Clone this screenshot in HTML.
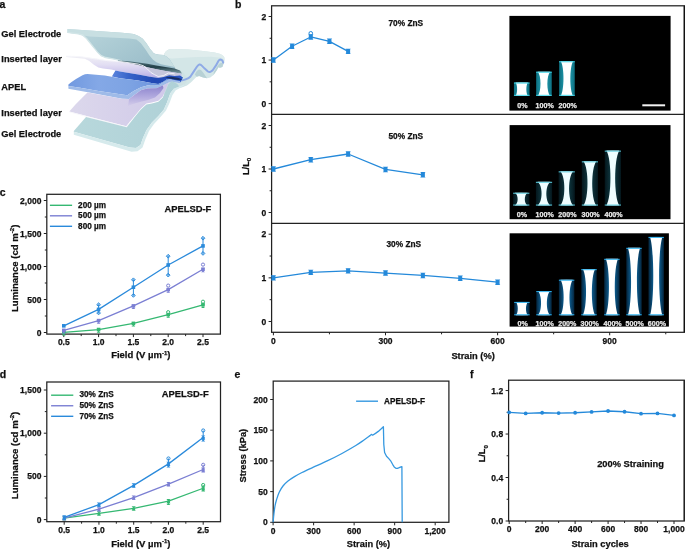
<!DOCTYPE html>
<html><head><meta charset="utf-8"><style>
html,body{margin:0;padding:0;background:#fff;width:685px;height:549px;overflow:hidden}
svg{display:block;filter:blur(0.35px)}
text{font-family:"Liberation Sans", sans-serif}
</style></head><body>
<svg width="685" height="549" viewBox="0 0 685 549" font-family='"Liberation Sans", sans-serif'>
<rect width="685" height="549" fill="#fff"/>
<text x="-0.60" y="8.00" font-size="10.5" text-anchor="start" fill="#111" font-weight="bold" stroke="#111" stroke-width="0.25" >a</text>
<text x="234.90" y="7.60" font-size="10.5" text-anchor="start" fill="#111" font-weight="bold" stroke="#111" stroke-width="0.25" >b</text>
<text x="-0.20" y="196.30" font-size="10.5" text-anchor="start" fill="#111" font-weight="bold" stroke="#111" stroke-width="0.25" >c</text>
<text x="-0.30" y="378.20" font-size="10.5" text-anchor="start" fill="#111" font-weight="bold" stroke="#111" stroke-width="0.25" >d</text>
<text x="234.60" y="378.20" font-size="10.5" text-anchor="start" fill="#111" font-weight="bold" stroke="#111" stroke-width="0.25" >e</text>
<text x="470.00" y="378.20" font-size="10.5" text-anchor="start" fill="#111" font-weight="bold" stroke="#111" stroke-width="0.25" >f</text>
<text x="1.30" y="36.80" font-size="9.3" text-anchor="start" fill="#111" font-weight="bold" stroke="#111" stroke-width="0.25" >Gel Electrode</text>
<text x="1.30" y="62.30" font-size="9.3" text-anchor="start" fill="#111" font-weight="bold" stroke="#111" stroke-width="0.25" >Inserted layer</text>
<text x="1.30" y="90.20" font-size="9.3" text-anchor="start" fill="#111" font-weight="bold" stroke="#111" stroke-width="0.25" >APEL</text>
<text x="1.30" y="116.40" font-size="9.3" text-anchor="start" fill="#111" font-weight="bold" stroke="#111" stroke-width="0.25" >Inserted layer</text>
<text x="1.30" y="137.20" font-size="9.3" text-anchor="start" fill="#111" font-weight="bold" stroke="#111" stroke-width="0.25" >Gel Electrode</text>
<defs>
<linearGradient id="gTop" x1="0" y1="0" x2="1" y2="0.6">
<stop offset="0" stop-color="#bcd7dd"/><stop offset="0.55" stop-color="#a9c9d2"/><stop offset="1" stop-color="#9abcc9"/>
</linearGradient>
<linearGradient id="gIns1" x1="0" y1="0" x2="0" y2="1">
<stop offset="0" stop-color="#f0f0f5"/><stop offset="0.4" stop-color="#e2def3"/><stop offset="0.75" stop-color="#cbc4ec"/><stop offset="1" stop-color="#b4abe4"/>
</linearGradient>
<linearGradient id="gDark" x1="0" y1="0" x2="1" y2="0">
<stop offset="0" stop-color="#5a84dc"/><stop offset="0.25" stop-color="#3562c8"/><stop offset="0.6" stop-color="#2249b4"/><stop offset="1" stop-color="#2a55c4"/>
</linearGradient>
<linearGradient id="gApelTop" x1="0" y1="0" x2="1" y2="0">
<stop offset="0" stop-color="#7199e0"/><stop offset="0.3" stop-color="#84a8e6"/><stop offset="0.6" stop-color="#7da3e3"/><stop offset="1" stop-color="#6990dc"/>
</linearGradient>
<linearGradient id="gIns2" x1="0" y1="0" x2="1" y2="0">
<stop offset="0" stop-color="#dcd8ec"/><stop offset="0.6" stop-color="#d5cfea"/><stop offset="1" stop-color="#cfc8ea"/>
</linearGradient>
<linearGradient id="gPurp" x1="0" y1="0" x2="0" y2="1">
<stop offset="0" stop-color="#857cc9"/><stop offset="0.5" stop-color="#aaa2dc"/><stop offset="1" stop-color="#d3ccea"/>
</linearGradient>
<linearGradient id="gBot" x1="0" y1="0" x2="1" y2="0">
<stop offset="0" stop-color="#b8d8dc"/><stop offset="1" stop-color="#afd1d7"/>
</linearGradient>
<linearGradient id="gShadow" x1="0" y1="0" x2="0" y2="1">
<stop offset="0" stop-color="#5d7f88"/><stop offset="0.5" stop-color="#213f48"/><stop offset="1" stop-color="#7fa0a8"/>
</linearGradient>
</defs>
<!-- wave back body -->
<path d="M156.4,54.6 L163.7,55 Q165,51 169.2,49.2 L173.8,49 L188.4,49.5 L203,51 L214.7,52.4 L220.5,53.9 Q223.8,55.5 224.4,57.5 L224.5,61 L224,63 L222.4,67 L220,67.8 L218.4,67.2 L216.8,70.3 L213.5,75.1 L210.3,77.5 L207.1,78.3 L203.1,77.5 L199.1,75.9 L196.7,76.7 L194.3,79.1 L191.1,82.3 L187,85.5 L183,87.1 L179,87.9 L175,88.7 L172,91 L165,80 L158,66 Z" fill="#d3e6e7"/>
<path d="M150,60 L182,71 L188,79 L183,87.1 L177.4,88 L173.7,88.7 L170.4,93.1 L160,95 L150,90 Z" fill="#cfe2e4"/>
<!-- lighter top surface of wave -->
<path d="M163.7,55 Q165,51 169.2,49.2 L173.8,49 L188.4,49.5 L203,51 L214.7,52.4 L220.5,53.9 Q223.8,55.5 224.4,57.5 L224.5,60 L221.5,57.8 L211,56.8 L197.3,57 L183.7,57.8 L172,58.5 L166,57.5 Z" fill="#e0eded"/>
<!-- shaded troughs below blue line -->
<path d="M194.8,74.5 L196.8,71 L199,69.5 L201,70 L203.5,73 L205.5,76 L207.1,78.3 L203.1,77.5 L199.1,75.9 L196.7,76.7 Z" fill="#b7d1d5"/>
<path d="M213.8,72 L216.5,67.5 L219,64 L221,62.8 L223.4,63.5 L222.4,67 L220,67.8 L218.4,67.2 L216.8,70.3 L213.5,75.1 Z" fill="#bad3d6"/>
<!-- blue APEL line in wave cross-section -->
<path d="M176,81 L179.8,80.7 Q183.5,80.3 186.2,79.1 Q188.8,78.2 190.3,76.7 L193.5,71.9 L196.7,67 Q198,65 199.1,64.6 Q200.5,64.4 201.5,65.4 L204.7,68.6 L207.9,71.5 Q209.2,72.3 210.3,71.9 Q211.6,71.4 212.7,70.3 L216,65.4 L218.4,61 Q219.4,59.5 220.4,59.4 Q221.7,59.4 222.4,60.6 L223.2,62.6" fill="none" stroke="#8eaae6" stroke-width="2" stroke-linecap="round" stroke-linejoin="round"/>
<!-- top gel electrode -->
<path d="M67.5,29.1 L89.3,30.5 L122,32.7 L127.3,33.2 L133.7,34.1 Q139.1,35.9 142.8,38.7 L146.4,43.2 L150,48.7 L153.7,53.2 Q156.4,54.6 159,54.8 L163.7,55 L167.3,57 L170,60 L174.6,66.9 L176,70.5 L165.5,68.6 L156.4,67.3 L147.3,65.5 L138.2,63.2 L129.1,62.3 L122,61.2 L113,59.1 L105.7,57.8 L101.2,56 L97.5,52.3 L93.9,47.8 L90.2,43.2 L86.6,38.7 L82.9,35.5 L78.4,34.1 L67.5,32.7 Z" fill="url(#gTop)"/>
<path d="M67.5,29.1 L89.3,30.5 L122,32.7 L127.3,33.2 L133.7,34.1 Q139.1,35.9 142.8,38.7 L146.4,43.2 L150,48.7 L153.7,53.2 Q156.4,54.6 159,54.8 L163.7,55 L167.3,57 L170,60 L174.6,66.9 L167.3,65.5 L161,64.2 L156.4,62.3 L152.8,59.6 L149.1,55 L145.5,49.6 L140.9,43.2 L136.4,39.6 L129.1,38.5 L120,38 L105,37.2 L89.3,36.6 L82.9,35.5 L78.4,34.1 L67.5,32.7 Z" fill="#c8dfe2"/>
<path d="M67.5,32.4 L78.4,33.8 L82.9,35.2 L86.6,38.5 L90.2,43 L93.9,47.6 L97.5,52.1 L101.2,55.7 L105.7,57.5 L113,58.8 L122,60.8" fill="none" stroke="#d2e5e7" stroke-width="1.3"/>
<!-- dark shadow under top electrode -->
<path d="M118,60.6 L129.1,61.3 L138.2,62.4 L147.3,63.8 L156.4,65.4 L165.5,66.9 L174.6,68.4 L180,70.5 L182,73.5 L174.6,73.3 L165.5,71.6 L156.4,69.8 L147.3,68 L138.2,65.6 L129.1,63.8 L118,62.4 Z" fill="url(#gShadow)"/>
<!-- top inserted layer -->
<path d="M66.1,56 L80.2,56.4 L89.3,57.8 L98.4,59.1 L107.5,60.5 L118,61.3 L129.1,63.1 L138.2,64.9 L147.3,67.3 L156.4,69.2 L165.5,71 L174.6,72.6 L181,73.8 L182,75.5 L180,75.5 L174.6,75.9 L169.2,75.2 L163.7,77 L158.2,78 L150,76.8 L138.2,74.5 L120,71.5 L111.2,69.5 L103,68.5 L98.4,67.5 L93.9,64.7 L89.3,61 L84.8,58.7 L66.1,56.9 Z" fill="url(#gIns1)"/>
<path d="M143.7,65.7 L147.3,67.3 L156.4,69.2 L165.5,71 L174.6,72.6 L181,73.8 L180,75.5 L174.6,75.9 L169.2,75.2 L163.7,77 L158.2,76.6 L154.6,74.6 L151,72.5 L147.3,68.7 Z" fill="#c6c6dc"/>
<path d="M66.1,56.2 L80.2,56.6 L89.3,58 L98.4,59.3 L107.5,60.7 L122,61.8 L129.1,62.8 L138.2,64.1 L143.7,65.9 L147.3,68.9 L151,72.6 L154.6,74.7 L158.2,76.5 L163.7,75.6 L168.3,73 L174.6,73.8" fill="none" stroke="#f6f6fa" stroke-width="0.9"/>
<!-- APEL dark back band -->
<path d="M112,76.2 L115.5,70.6 L120,71.5 L138.2,74.5 L150,76.8 L158.2,78 L163.7,77 L169.2,75.2 L174.6,75.9 L180,75.5 L183,77.5 L180,82.8 L176.5,81.4 L171,79.6 L167.3,79.1 L162.8,81.9 L158.2,84.1 L150,82.8 L138.2,80.5 L120,78.2 L112,76.6 Z" fill="url(#gDark)"/>
<path d="M165,77.5 L171,76.8 L178,77.8 L182.5,79.5 L178,80 L171,78.8 Z" fill="#14254a" opacity="0.8"/>
<!-- APEL top face -->
<path d="M68.4,84.6 Q72,81.5 76,79 L82.5,75.2 Q85,74.1 87.5,74 L104.8,75.6 L120,78.2 L138.2,80.5 L150,82.8 L158.2,84.1 L162.8,81.9 L167.3,79.1 L170,79.3 L163.7,81.9 L159.2,85 L154.6,85.5 L147.3,85.5 L141,87.3 L133.7,91 L127.3,95.2 L122,94.6 L98.4,91 L80.2,87.8 L68.4,86 Z" fill="url(#gApelTop)"/>
<!-- APEL front face -->
<path d="M68.4,86 L80.2,87.8 L98.4,91 L122,94.6 L127.3,95.2 L133.7,91 L141,87.3 L147.3,85.5 L154.6,85.5 L159.2,85 L163.7,81.9 L169.2,79.1 L174.6,80 L180,81 L180,83 L174.6,82.2 L169.2,82.2 L162.8,85.6 L156.4,88.3 L147.3,88.4 L141,90.2 L133.7,95.6 L129.1,99 L122,98.7 L89.3,92.4 L68.4,88.8 Z" fill="#9fbbe8"/>
<!-- bottom inserted layer -->
<path d="M69.3,111.4 L75.7,104.2 L82.9,96.9 L87.5,92.6 L122,98.7 L129.1,99 L133.7,95.6 L141,90.2 L147.3,88.4 L156.4,88.3 L162.8,85.6 L169.2,82.2 L172,80.5 L168.3,83.3 L166.1,88.7 L162.8,96.4 L158.4,100.8 L151.9,102.4 L146.4,103.5 L140.9,108.4 L135.5,115 L130,121.5 L126.3,126.2 L100,119.5 Z" fill="url(#gIns2)"/>
<path d="M129.1,99 L133.7,95.6 L141,90.2 L147.3,88.4 L156.4,88.3 L162.8,85.6 L163.5,88 L160,93 L155,97.5 L148,100 L140,102 L133,104 L128,106 Z" fill="url(#gPurp)" opacity="0.9"/>
<path d="M69.3,111.4 L100,119.5 L126.3,126.2 L130,121.5 L130.6,122.3 L126.8,127.3 L100,120.5 L69.3,112.2 Z" fill="#f6f5fa"/>
<!-- bottom gel electrode top face -->
<path d="M73.8,130.9 L86,116.9 L100,120.5 L126.8,127.3 L130.6,122.3 L135.5,116 L140.9,109.4 L146.4,104.5 L151.9,103.4 L158.4,101.8 L162.8,97.4 L166.1,89.7 L168.3,84.3 L172,81 L177.4,84 L179.2,86.6 L173.7,88.7 L170.4,93.1 L167.2,101.9 L163.9,109.5 L158.4,116.1 L151.9,122.6 L146.4,130.3 L143,138 L140.5,145 L136,148 L129.8,147.6 L73.8,131.8 Z" fill="url(#gBot)"/>
<!-- bottom gel electrode front face -->
<path d="M73.8,131.8 L129.8,147.6 L136,148 L140.5,145 L143,138 L146.4,130.3 L151.9,122.6 L158.4,116.1 L163.9,109.5 L167.2,101.9 L170.4,93.1 L173.7,88.7 L179.2,86.6 L184,84.5 L184,85.8 L180,88 L175.5,90.5 L172.5,95 L169.5,103 L166,110.5 L160,117.5 L154,124 L149,131 L145.5,139 L142.5,147.5 L137.5,151.2 L131.6,151.8 L73.8,134.8 Z" fill="#d6eaec"/>

<defs>
<linearGradient id="e1" x1="0" y1="0" x2="1" y2="0"><stop offset="0" stop-color="#0e6f80"/><stop offset="0.3" stop-color="#1b93a6"/><stop offset="0.5" stop-color="#2ab0c2"/><stop offset="0.7" stop-color="#1b93a6"/><stop offset="1" stop-color="#0e6f80"/></linearGradient>
<linearGradient id="e2" x1="0" y1="0" x2="1" y2="0"><stop offset="0" stop-color="#04161c"/><stop offset="0.3" stop-color="#0c3038"/><stop offset="0.5" stop-color="#2a6a78"/><stop offset="0.7" stop-color="#0c3038"/><stop offset="1" stop-color="#04161c"/></linearGradient>
<linearGradient id="e3" x1="0" y1="0" x2="1" y2="0"><stop offset="0" stop-color="#04243c"/><stop offset="0.3" stop-color="#0c5a8c"/><stop offset="0.5" stop-color="#2a9ee0"/><stop offset="0.7" stop-color="#0c5a8c"/><stop offset="1" stop-color="#04243c"/></linearGradient>
</defs>
<rect x="509.4" y="15.9" width="161.20" height="94.70" fill="#000"/>
<rect x="509.6" y="125.1" width="160.90" height="94.10" fill="#000"/>
<rect x="509.6" y="233.3" width="159.30" height="93.30" fill="#000"/>
<rect x="513.95" y="82.50" width="15.60" height="13.40" fill="url(#e1)"/>
<path d="M515.51,82.50 L527.99,82.50 C525.81,84.64 525.81,93.76 527.99,95.90 L515.51,95.90 C517.69,93.76 517.69,84.64 515.51,82.50 Z" fill="#ffffff"/>
<rect x="513.95" y="82.50" width="15.60" height="1.1" fill="#3fd6ea" opacity="0.9"/>
<rect x="513.95" y="94.80" width="15.60" height="1.1" fill="#3fd6ea" opacity="0.9"/>
<text x="522.45" y="108.20" font-size="7.1" text-anchor="middle" fill="#e8e8e8" font-weight="bold" stroke="#e8e8e8" stroke-width="0.25" >0%</text>
<rect x="536.15" y="71.70" width="15.60" height="24.20" fill="url(#e1)"/>
<path d="M537.71,71.70 L550.19,71.70 C546.45,75.57 546.45,92.03 550.19,95.90 L537.71,95.90 C541.45,92.03 541.45,75.57 537.71,71.70 Z" fill="#ffffff"/>
<rect x="536.15" y="71.70" width="15.60" height="1.1" fill="#3fd6ea" opacity="0.9"/>
<rect x="536.15" y="94.80" width="15.60" height="1.1" fill="#3fd6ea" opacity="0.9"/>
<text x="544.65" y="108.20" font-size="7.1" text-anchor="middle" fill="#e8e8e8" font-weight="bold" stroke="#e8e8e8" stroke-width="0.25" >100%</text>
<rect x="559.15" y="61.20" width="15.60" height="34.70" fill="url(#e1)"/>
<path d="M560.71,61.20 L573.19,61.20 C569.45,66.75 569.45,90.35 573.19,95.90 L560.71,95.90 C564.45,90.35 564.45,66.75 560.71,61.20 Z" fill="#ffffff"/>
<rect x="559.15" y="61.20" width="15.60" height="1.1" fill="#3fd6ea" opacity="0.9"/>
<rect x="559.15" y="94.80" width="15.60" height="1.1" fill="#3fd6ea" opacity="0.9"/>
<text x="567.65" y="108.20" font-size="7.1" text-anchor="middle" fill="#e8e8e8" font-weight="bold" stroke="#e8e8e8" stroke-width="0.25" >200%</text>
<rect x="642.3" y="104.3" width="22.8" height="2" fill="#f2f2f2"/>
<rect x="513.15" y="192.70" width="16.20" height="12.90" fill="url(#e2)"/>
<path d="M514.77,192.70 L527.73,192.70 C523.84,194.76 523.84,203.54 527.73,205.60 L514.77,205.60 C518.66,203.54 518.66,194.76 514.77,192.70 Z" fill="#effdff"/>
<rect x="513.15" y="192.70" width="16.20" height="1.1" fill="#5fd0e2" opacity="0.9"/>
<rect x="513.15" y="204.50" width="16.20" height="1.1" fill="#5fd0e2" opacity="0.9"/>
<text x="521.95" y="216.60" font-size="7.1" text-anchor="middle" fill="#e8e8e8" font-weight="bold" stroke="#e8e8e8" stroke-width="0.25" >0%</text>
<rect x="535.90" y="181.80" width="16.20" height="23.80" fill="url(#e2)"/>
<path d="M537.52,181.80 L550.48,181.80 C544.97,185.61 544.97,201.79 550.48,205.60 L537.52,205.60 C543.03,201.79 543.03,185.61 537.52,181.80 Z" fill="#effdff"/>
<rect x="535.90" y="181.80" width="16.20" height="1.1" fill="#5fd0e2" opacity="0.9"/>
<rect x="535.90" y="204.50" width="16.20" height="1.1" fill="#5fd0e2" opacity="0.9"/>
<text x="544.70" y="216.60" font-size="7.1" text-anchor="middle" fill="#e8e8e8" font-weight="bold" stroke="#e8e8e8" stroke-width="0.25" >100%</text>
<rect x="558.65" y="171.30" width="16.20" height="34.30" fill="url(#e2)"/>
<path d="M560.27,171.30 L573.23,171.30 C567.72,176.79 567.72,200.11 573.23,205.60 L560.27,205.60 C565.78,200.11 565.78,176.79 560.27,171.30 Z" fill="#effdff"/>
<rect x="558.65" y="171.30" width="16.20" height="1.1" fill="#5fd0e2" opacity="0.9"/>
<rect x="558.65" y="204.50" width="16.20" height="1.1" fill="#5fd0e2" opacity="0.9"/>
<text x="567.45" y="216.60" font-size="7.1" text-anchor="middle" fill="#e8e8e8" font-weight="bold" stroke="#e8e8e8" stroke-width="0.25" >200%</text>
<rect x="581.80" y="161.30" width="16.20" height="44.30" fill="url(#e2)"/>
<path d="M583.42,161.30 L596.38,161.30 C590.87,168.39 590.87,198.51 596.38,205.60 L583.42,205.60 C588.93,198.51 588.93,168.39 583.42,161.30 Z" fill="#effdff"/>
<rect x="581.80" y="161.30" width="16.20" height="1.1" fill="#5fd0e2" opacity="0.9"/>
<rect x="581.80" y="204.50" width="16.20" height="1.1" fill="#5fd0e2" opacity="0.9"/>
<text x="590.60" y="216.60" font-size="7.1" text-anchor="middle" fill="#e8e8e8" font-weight="bold" stroke="#e8e8e8" stroke-width="0.25" >300%</text>
<rect x="604.75" y="150.60" width="16.20" height="55.00" fill="url(#e2)"/>
<path d="M606.37,150.60 L619.33,150.60 C613.82,159.40 613.82,196.80 619.33,205.60 L606.37,205.60 C611.88,196.80 611.88,159.40 606.37,150.60 Z" fill="#effdff"/>
<rect x="604.75" y="150.60" width="16.20" height="1.1" fill="#5fd0e2" opacity="0.9"/>
<rect x="604.75" y="204.50" width="16.20" height="1.1" fill="#5fd0e2" opacity="0.9"/>
<text x="613.55" y="216.60" font-size="7.1" text-anchor="middle" fill="#e8e8e8" font-weight="bold" stroke="#e8e8e8" stroke-width="0.25" >400%</text>
<rect x="514.20" y="301.90" width="15.40" height="13.40" fill="url(#e3)"/>
<path d="M515.74,301.90 L528.06,301.90 C525.29,304.04 525.29,313.16 528.06,315.30 L515.74,315.30 C518.51,313.16 518.51,304.04 515.74,301.90 Z" fill="#ffffff"/>
<rect x="514.20" y="301.90" width="15.40" height="1.1" fill="#2fb2f0" opacity="0.9"/>
<rect x="514.20" y="314.20" width="15.40" height="1.1" fill="#2fb2f0" opacity="0.9"/>
<text x="522.60" y="325.50" font-size="7.1" text-anchor="middle" fill="#e8e8e8" font-weight="bold" stroke="#e8e8e8" stroke-width="0.25" >0%</text>
<rect x="536.30" y="291.00" width="15.40" height="24.30" fill="url(#e3)"/>
<path d="M537.84,291.00 L550.16,291.00 C545.85,294.89 545.85,311.41 550.16,315.30 L537.84,315.30 C542.15,311.41 542.15,294.89 537.84,291.00 Z" fill="#ffffff"/>
<rect x="536.30" y="291.00" width="15.40" height="1.1" fill="#2fb2f0" opacity="0.9"/>
<rect x="536.30" y="314.20" width="15.40" height="1.1" fill="#2fb2f0" opacity="0.9"/>
<text x="544.70" y="325.50" font-size="7.1" text-anchor="middle" fill="#e8e8e8" font-weight="bold" stroke="#e8e8e8" stroke-width="0.25" >100%</text>
<rect x="558.90" y="279.70" width="15.40" height="35.60" fill="url(#e3)"/>
<path d="M560.44,279.70 L572.76,279.70 C568.45,285.40 568.45,309.60 572.76,315.30 L560.44,315.30 C564.75,309.60 564.75,285.40 560.44,279.70 Z" fill="#ffffff"/>
<rect x="558.90" y="279.70" width="15.40" height="1.1" fill="#2fb2f0" opacity="0.9"/>
<rect x="558.90" y="314.20" width="15.40" height="1.1" fill="#2fb2f0" opacity="0.9"/>
<text x="567.30" y="325.50" font-size="7.1" text-anchor="middle" fill="#e8e8e8" font-weight="bold" stroke="#e8e8e8" stroke-width="0.25" >200%</text>
<rect x="581.30" y="269.10" width="15.40" height="46.20" fill="url(#e3)"/>
<path d="M582.84,269.10 L595.16,269.10 C590.85,276.49 590.85,307.91 595.16,315.30 L582.84,315.30 C587.15,307.91 587.15,276.49 582.84,269.10 Z" fill="#ffffff"/>
<rect x="581.30" y="269.10" width="15.40" height="1.1" fill="#2fb2f0" opacity="0.9"/>
<rect x="581.30" y="314.20" width="15.40" height="1.1" fill="#2fb2f0" opacity="0.9"/>
<text x="589.70" y="325.50" font-size="7.1" text-anchor="middle" fill="#e8e8e8" font-weight="bold" stroke="#e8e8e8" stroke-width="0.25" >300%</text>
<rect x="604.20" y="258.80" width="15.40" height="56.50" fill="url(#e3)"/>
<path d="M605.74,258.80 L618.06,258.80 C613.75,267.84 613.75,306.26 618.06,315.30 L605.74,315.30 C610.05,306.26 610.05,267.84 605.74,258.80 Z" fill="#ffffff"/>
<rect x="604.20" y="258.80" width="15.40" height="1.1" fill="#2fb2f0" opacity="0.9"/>
<rect x="604.20" y="314.20" width="15.40" height="1.1" fill="#2fb2f0" opacity="0.9"/>
<text x="612.60" y="325.50" font-size="7.1" text-anchor="middle" fill="#e8e8e8" font-weight="bold" stroke="#e8e8e8" stroke-width="0.25" >400%</text>
<rect x="626.30" y="247.80" width="15.40" height="67.50" fill="url(#e3)"/>
<path d="M627.84,247.80 L640.16,247.80 C635.85,258.60 635.85,304.50 640.16,315.30 L627.84,315.30 C632.15,304.50 632.15,258.60 627.84,247.80 Z" fill="#ffffff"/>
<rect x="626.30" y="247.80" width="15.40" height="1.1" fill="#2fb2f0" opacity="0.9"/>
<rect x="626.30" y="314.20" width="15.40" height="1.1" fill="#2fb2f0" opacity="0.9"/>
<text x="634.70" y="325.50" font-size="7.1" text-anchor="middle" fill="#e8e8e8" font-weight="bold" stroke="#e8e8e8" stroke-width="0.25" >500%</text>
<rect x="648.50" y="236.90" width="15.40" height="78.40" fill="url(#e3)"/>
<path d="M650.04,236.90 L662.36,236.90 C658.05,249.44 658.05,302.76 662.36,315.30 L650.04,315.30 C654.35,302.76 654.35,249.44 650.04,236.90 Z" fill="#ffffff"/>
<rect x="648.50" y="236.90" width="15.40" height="1.1" fill="#2fb2f0" opacity="0.9"/>
<rect x="648.50" y="314.20" width="15.40" height="1.1" fill="#2fb2f0" opacity="0.9"/>
<text x="656.90" y="325.50" font-size="7.1" text-anchor="middle" fill="#e8e8e8" font-weight="bold" stroke="#e8e8e8" stroke-width="0.25" >600%</text>
<rect x="271.60" y="5.80" width="412.75" height="326.50" fill="none" stroke="#222" stroke-width="1.25"/>
<line x1="684.45" y1="5.80" x2="684.45" y2="332.30" stroke="#111" stroke-width="1.5" />
<line x1="271.60" y1="114.40" x2="684.35" y2="114.40" stroke="#222" stroke-width="1.25" />
<line x1="271.60" y1="223.40" x2="684.35" y2="223.40" stroke="#222" stroke-width="1.25" />
<line x1="268.60" y1="103.60" x2="271.60" y2="103.60" stroke="#222" stroke-width="1.0" />
<text x="266.20" y="106.64" font-size="8.5" text-anchor="end" fill="#111" font-weight="bold" stroke="#111" stroke-width="0.25" >0</text>
<line x1="268.60" y1="60.05" x2="271.60" y2="60.05" stroke="#222" stroke-width="1.0" />
<text x="266.20" y="63.09" font-size="8.5" text-anchor="end" fill="#111" font-weight="bold" stroke="#111" stroke-width="0.25" >1</text>
<line x1="268.60" y1="16.50" x2="271.60" y2="16.50" stroke="#222" stroke-width="1.0" />
<text x="266.20" y="19.54" font-size="8.5" text-anchor="end" fill="#111" font-weight="bold" stroke="#111" stroke-width="0.25" >2</text>
<line x1="269.60" y1="81.82" x2="271.60" y2="81.82" stroke="#222" stroke-width="1.0" />
<line x1="269.60" y1="38.28" x2="271.60" y2="38.28" stroke="#222" stroke-width="1.0" />
<line x1="268.60" y1="212.50" x2="271.60" y2="212.50" stroke="#222" stroke-width="1.0" />
<text x="266.20" y="215.54" font-size="8.5" text-anchor="end" fill="#111" font-weight="bold" stroke="#111" stroke-width="0.25" >0</text>
<line x1="268.60" y1="169.00" x2="271.60" y2="169.00" stroke="#222" stroke-width="1.0" />
<text x="266.20" y="172.04" font-size="8.5" text-anchor="end" fill="#111" font-weight="bold" stroke="#111" stroke-width="0.25" >1</text>
<line x1="268.60" y1="125.50" x2="271.60" y2="125.50" stroke="#222" stroke-width="1.0" />
<text x="266.20" y="128.54" font-size="8.5" text-anchor="end" fill="#111" font-weight="bold" stroke="#111" stroke-width="0.25" >2</text>
<line x1="269.60" y1="190.75" x2="271.60" y2="190.75" stroke="#222" stroke-width="1.0" />
<line x1="269.60" y1="147.25" x2="271.60" y2="147.25" stroke="#222" stroke-width="1.0" />
<line x1="268.60" y1="321.50" x2="271.60" y2="321.50" stroke="#222" stroke-width="1.0" />
<text x="266.20" y="324.54" font-size="8.5" text-anchor="end" fill="#111" font-weight="bold" stroke="#111" stroke-width="0.25" >0</text>
<line x1="268.60" y1="277.85" x2="271.60" y2="277.85" stroke="#222" stroke-width="1.0" />
<text x="266.20" y="280.89" font-size="8.5" text-anchor="end" fill="#111" font-weight="bold" stroke="#111" stroke-width="0.25" >1</text>
<line x1="268.60" y1="234.20" x2="271.60" y2="234.20" stroke="#222" stroke-width="1.0" />
<text x="266.20" y="237.24" font-size="8.5" text-anchor="end" fill="#111" font-weight="bold" stroke="#111" stroke-width="0.25" >2</text>
<line x1="269.60" y1="299.68" x2="271.60" y2="299.68" stroke="#222" stroke-width="1.0" />
<line x1="269.60" y1="256.02" x2="271.60" y2="256.02" stroke="#222" stroke-width="1.0" />
<line x1="273.40" y1="332.30" x2="273.40" y2="335.30" stroke="#222" stroke-width="1.0" />
<text x="273.40" y="344.10" font-size="8.5" text-anchor="middle" fill="#111" font-weight="bold" stroke="#111" stroke-width="0.25" >0</text>
<line x1="385.50" y1="332.30" x2="385.50" y2="335.30" stroke="#222" stroke-width="1.0" />
<text x="385.50" y="344.10" font-size="8.5" text-anchor="middle" fill="#111" font-weight="bold" stroke="#111" stroke-width="0.25" >300</text>
<line x1="497.60" y1="332.30" x2="497.60" y2="335.30" stroke="#222" stroke-width="1.0" />
<text x="497.60" y="344.10" font-size="8.5" text-anchor="middle" fill="#111" font-weight="bold" stroke="#111" stroke-width="0.25" >600</text>
<line x1="609.70" y1="332.30" x2="609.70" y2="335.30" stroke="#222" stroke-width="1.0" />
<text x="609.70" y="344.10" font-size="8.5" text-anchor="middle" fill="#111" font-weight="bold" stroke="#111" stroke-width="0.25" >900</text>
<line x1="329.45" y1="332.30" x2="329.45" y2="334.30" stroke="#222" stroke-width="1.0" />
<line x1="441.55" y1="332.30" x2="441.55" y2="334.30" stroke="#222" stroke-width="1.0" />
<line x1="553.65" y1="332.30" x2="553.65" y2="334.30" stroke="#222" stroke-width="1.0" />
<line x1="665.75" y1="332.30" x2="665.75" y2="334.30" stroke="#222" stroke-width="1.0" />
<text x="473.10" y="358.60" font-size="9.3" text-anchor="middle" fill="#111" font-weight="bold" stroke="#111" stroke-width="0.25" >Strain (%)</text>
<text transform="translate(248.90,166.40) rotate(-90)" x="0" y="0" font-size="9.2" text-anchor="middle" fill="#111" font-weight="bold" stroke="#111" stroke-width="0.25">L/L<tspan font-size="6.2" dy="2.4">0</tspan></text>
<text x="388.50" y="26.00" font-size="8.3" text-anchor="start" fill="#111" font-weight="bold" stroke="#111" stroke-width="0.25" >70% ZnS</text>
<text x="388.50" y="139.40" font-size="8.3" text-anchor="start" fill="#111" font-weight="bold" stroke="#111" stroke-width="0.25" >50% ZnS</text>
<text x="386.50" y="246.80" font-size="8.3" text-anchor="start" fill="#111" font-weight="bold" stroke="#111" stroke-width="0.25" >30% ZnS</text>
<polyline points="273.40,60.05 292.08,46.29 310.77,36.97 329.45,41.32 348.13,51.34" fill="none" stroke="#2489da" stroke-width="1.3" stroke-linejoin="round" />
<path d="M270.70,57.35 H276.10 L270.70,62.75 H276.10 Z" fill="#2489da"/>
<rect x="271.40" y="58.05" width="4.00" height="4.00" fill="#2489da"/>
<path d="M289.38,43.59 H294.78 L289.38,48.99 H294.78 Z" fill="#2489da"/>
<rect x="290.08" y="44.29" width="4.00" height="4.00" fill="#2489da"/>
<path d="M308.07,34.27 H313.47 L308.07,39.67 H313.47 Z" fill="#2489da"/>
<rect x="308.77" y="34.97" width="4.00" height="4.00" fill="#2489da"/>
<path d="M326.75,38.62 H332.15 L326.75,44.02 H332.15 Z" fill="#2489da"/>
<rect x="327.45" y="39.32" width="4.00" height="4.00" fill="#2489da"/>
<path d="M345.43,48.64 H350.83 L345.43,54.04 H350.83 Z" fill="#2489da"/>
<rect x="346.13" y="49.34" width="4.00" height="4.00" fill="#2489da"/>
<polyline points="273.40,169.00 310.77,159.69 348.13,153.99 385.50,169.44 422.87,174.79" fill="none" stroke="#2489da" stroke-width="1.3" stroke-linejoin="round" />
<path d="M270.70,166.30 H276.10 L270.70,171.70 H276.10 Z" fill="#2489da"/>
<rect x="271.40" y="167.00" width="4.00" height="4.00" fill="#2489da"/>
<path d="M308.07,156.99 H313.47 L308.07,162.39 H313.47 Z" fill="#2489da"/>
<rect x="308.77" y="157.69" width="4.00" height="4.00" fill="#2489da"/>
<path d="M345.43,151.29 H350.83 L345.43,156.69 H350.83 Z" fill="#2489da"/>
<rect x="346.13" y="151.99" width="4.00" height="4.00" fill="#2489da"/>
<path d="M382.80,166.74 H388.20 L382.80,172.13 H388.20 Z" fill="#2489da"/>
<rect x="383.50" y="167.44" width="4.00" height="4.00" fill="#2489da"/>
<path d="M420.17,172.09 H425.57 L420.17,177.49 H425.57 Z" fill="#2489da"/>
<rect x="420.87" y="172.79" width="4.00" height="4.00" fill="#2489da"/>
<polyline points="273.40,277.85 310.77,272.39 348.13,270.87 385.50,273.05 422.87,275.45 460.24,278.29 497.60,282.22" fill="none" stroke="#2489da" stroke-width="1.3" stroke-linejoin="round" />
<path d="M270.70,275.15 H276.10 L270.70,280.55 H276.10 Z" fill="#2489da"/>
<rect x="271.40" y="275.85" width="4.00" height="4.00" fill="#2489da"/>
<path d="M308.07,269.69 H313.47 L308.07,275.09 H313.47 Z" fill="#2489da"/>
<rect x="308.77" y="270.39" width="4.00" height="4.00" fill="#2489da"/>
<path d="M345.43,268.17 H350.83 L345.43,273.57 H350.83 Z" fill="#2489da"/>
<rect x="346.13" y="268.87" width="4.00" height="4.00" fill="#2489da"/>
<path d="M382.80,270.35 H388.20 L382.80,275.75 H388.20 Z" fill="#2489da"/>
<rect x="383.50" y="271.05" width="4.00" height="4.00" fill="#2489da"/>
<path d="M420.17,272.75 H425.57 L420.17,278.15 H425.57 Z" fill="#2489da"/>
<rect x="420.87" y="273.45" width="4.00" height="4.00" fill="#2489da"/>
<path d="M457.54,275.59 H462.94 L457.54,280.99 H462.94 Z" fill="#2489da"/>
<rect x="458.24" y="276.29" width="4.00" height="4.00" fill="#2489da"/>
<path d="M494.90,279.52 H500.30 L494.90,284.92 H500.30 Z" fill="#2489da"/>
<rect x="495.60" y="280.22" width="4.00" height="4.00" fill="#2489da"/>
<circle cx="310.77" cy="33.30" r="1.8" fill="none" stroke="#2489da" stroke-width="1"/>
<rect x="46.80" y="194.30" width="173.60" height="139.80" fill="none" stroke="#222" stroke-width="1.25"/>
<line x1="43.80" y1="332.50" x2="46.80" y2="332.50" stroke="#222" stroke-width="1.0" />
<text x="41.40" y="335.54" font-size="8.5" text-anchor="end" fill="#111" font-weight="bold" stroke="#111" stroke-width="0.25" >0</text>
<line x1="43.80" y1="299.50" x2="46.80" y2="299.50" stroke="#222" stroke-width="1.0" />
<text x="41.40" y="302.54" font-size="8.5" text-anchor="end" fill="#111" font-weight="bold" stroke="#111" stroke-width="0.25" >500</text>
<line x1="43.80" y1="266.50" x2="46.80" y2="266.50" stroke="#222" stroke-width="1.0" />
<text x="41.40" y="269.54" font-size="8.5" text-anchor="end" fill="#111" font-weight="bold" stroke="#111" stroke-width="0.25" >1,000</text>
<line x1="43.80" y1="233.50" x2="46.80" y2="233.50" stroke="#222" stroke-width="1.0" />
<text x="41.40" y="236.54" font-size="8.5" text-anchor="end" fill="#111" font-weight="bold" stroke="#111" stroke-width="0.25" >1,500</text>
<line x1="43.80" y1="200.50" x2="46.80" y2="200.50" stroke="#222" stroke-width="1.0" />
<text x="41.40" y="203.54" font-size="8.5" text-anchor="end" fill="#111" font-weight="bold" stroke="#111" stroke-width="0.25" >2,000</text>
<line x1="44.80" y1="316.00" x2="46.80" y2="316.00" stroke="#222" stroke-width="1.0" />
<line x1="44.80" y1="283.00" x2="46.80" y2="283.00" stroke="#222" stroke-width="1.0" />
<line x1="44.80" y1="250.00" x2="46.80" y2="250.00" stroke="#222" stroke-width="1.0" />
<line x1="44.80" y1="217.00" x2="46.80" y2="217.00" stroke="#222" stroke-width="1.0" />
<line x1="63.80" y1="334.10" x2="63.80" y2="337.10" stroke="#222" stroke-width="1.0" />
<text x="63.80" y="345.20" font-size="8.5" text-anchor="middle" fill="#111" font-weight="bold" stroke="#111" stroke-width="0.25" >0.5</text>
<line x1="98.60" y1="334.10" x2="98.60" y2="337.10" stroke="#222" stroke-width="1.0" />
<text x="98.60" y="345.20" font-size="8.5" text-anchor="middle" fill="#111" font-weight="bold" stroke="#111" stroke-width="0.25" >1.0</text>
<line x1="133.40" y1="334.10" x2="133.40" y2="337.10" stroke="#222" stroke-width="1.0" />
<text x="133.40" y="345.20" font-size="8.5" text-anchor="middle" fill="#111" font-weight="bold" stroke="#111" stroke-width="0.25" >1.5</text>
<line x1="168.20" y1="334.10" x2="168.20" y2="337.10" stroke="#222" stroke-width="1.0" />
<text x="168.20" y="345.20" font-size="8.5" text-anchor="middle" fill="#111" font-weight="bold" stroke="#111" stroke-width="0.25" >2.0</text>
<line x1="203.00" y1="334.10" x2="203.00" y2="337.10" stroke="#222" stroke-width="1.0" />
<text x="203.00" y="345.20" font-size="8.5" text-anchor="middle" fill="#111" font-weight="bold" stroke="#111" stroke-width="0.25" >2.5</text>
<line x1="81.20" y1="334.10" x2="81.20" y2="336.10" stroke="#222" stroke-width="1.0" />
<line x1="116.00" y1="334.10" x2="116.00" y2="336.10" stroke="#222" stroke-width="1.0" />
<line x1="150.80" y1="334.10" x2="150.80" y2="336.10" stroke="#222" stroke-width="1.0" />
<line x1="185.60" y1="334.10" x2="185.60" y2="336.10" stroke="#222" stroke-width="1.0" />
<text x="140.85" y="358.40" font-size="9.5" text-anchor="middle" fill="#111" font-weight="bold" stroke="#111" stroke-width="0.25" >Field (V µm<tspan font-size="6.0" dy="-3.4">-1</tspan><tspan dy="3.4">)</tspan></text>
<text transform="translate(17.80,268.30) rotate(-90)" x="0" y="0" font-size="9.6" text-anchor="middle" fill="#111" font-weight="bold" stroke="#111" stroke-width="0.25">Luminance (cd m<tspan font-size="6.0" dy="-3.5">-2</tspan><tspan dy="3.5">)</tspan></text>
<text x="164.40" y="211.80" font-size="9.4" text-anchor="start" fill="#111" font-weight="bold" stroke="#111" stroke-width="0.25" >APELSD-F</text>
<line x1="49.90" y1="205.30" x2="72.10" y2="205.30" stroke="#35b872" stroke-width="1.4" />
<text x="78.10" y="207.90" font-size="8.2" text-anchor="start" fill="#111" font-weight="bold" stroke="#111" stroke-width="0.25" >200 µm</text>
<line x1="49.90" y1="215.80" x2="72.10" y2="215.80" stroke="#7b7fd3" stroke-width="1.4" />
<text x="78.10" y="218.40" font-size="8.2" text-anchor="start" fill="#111" font-weight="bold" stroke="#111" stroke-width="0.25" >500 µm</text>
<line x1="49.90" y1="226.30" x2="72.10" y2="226.30" stroke="#2a8adb" stroke-width="1.4" />
<text x="78.10" y="228.90" font-size="8.2" text-anchor="start" fill="#111" font-weight="bold" stroke="#111" stroke-width="0.25" >800 µm</text>
<polyline points="63.80,332.30 98.60,329.53 133.40,323.39 168.20,314.61 203.00,304.78" fill="none" stroke="#35b872" stroke-width="1.3" stroke-linejoin="round" />
<rect x="62.00" y="330.50" width="3.60" height="3.60" fill="#35b872"/>
<path d="M61.90,331.60 H65.70 L61.90,335.40 H65.70 Z" fill="#35b872"/>
<rect x="96.80" y="327.73" width="3.60" height="3.60" fill="#35b872"/>
<path d="M96.70,328.83 H100.50 L96.70,332.63 H100.50 Z" fill="#35b872"/>
<rect x="131.60" y="321.59" width="3.60" height="3.60" fill="#35b872"/>
<path d="M131.50,322.69 H135.30 L131.50,326.49 H135.30 Z" fill="#35b872"/>
<rect x="166.40" y="312.81" width="3.60" height="3.60" fill="#35b872"/>
<path d="M166.30,313.91 H170.10 L166.30,317.71 H170.10 Z" fill="#35b872"/>
<rect x="201.20" y="302.98" width="3.60" height="3.60" fill="#35b872"/>
<path d="M201.10,304.08 H204.90 L201.10,307.88 H204.90 Z" fill="#35b872"/>
<polyline points="63.80,330.39 98.60,320.62 133.40,305.90 168.20,289.60 203.00,269.21" fill="none" stroke="#7b7fd3" stroke-width="1.3" stroke-linejoin="round" />
<rect x="62.00" y="328.59" width="3.60" height="3.60" fill="#7b7fd3"/>
<path d="M61.90,329.69 H65.70 L61.90,333.49 H65.70 Z" fill="#7b7fd3"/>
<rect x="96.80" y="318.82" width="3.60" height="3.60" fill="#7b7fd3"/>
<path d="M96.70,319.92 H100.50 L96.70,323.72 H100.50 Z" fill="#7b7fd3"/>
<rect x="131.60" y="304.10" width="3.60" height="3.60" fill="#7b7fd3"/>
<path d="M131.50,305.20 H135.30 L131.50,309.00 H135.30 Z" fill="#7b7fd3"/>
<rect x="166.40" y="287.80" width="3.60" height="3.60" fill="#7b7fd3"/>
<path d="M166.30,288.90 H170.10 L166.30,292.70 H170.10 Z" fill="#7b7fd3"/>
<rect x="201.20" y="267.41" width="3.60" height="3.60" fill="#7b7fd3"/>
<path d="M201.10,268.51 H204.90 L201.10,272.31 H204.90 Z" fill="#7b7fd3"/>
<polyline points="63.80,325.83 98.60,309.40 133.40,287.22 168.20,264.98 203.00,245.91" fill="none" stroke="#2a8adb" stroke-width="1.3" stroke-linejoin="round" />
<rect x="62.00" y="324.03" width="3.60" height="3.60" fill="#2a8adb"/>
<rect x="96.80" y="307.60" width="3.60" height="3.60" fill="#2a8adb"/>
<rect x="131.60" y="285.42" width="3.60" height="3.60" fill="#2a8adb"/>
<rect x="166.40" y="263.18" width="3.60" height="3.60" fill="#2a8adb"/>
<rect x="201.20" y="244.11" width="3.60" height="3.60" fill="#2a8adb"/>
<line x1="98.60" y1="312.90" x2="98.60" y2="304.70" stroke="#2a8adb" stroke-width="1.0" />
<path d="M96.70,312.90 L98.60,311.00 L100.50,312.90 L98.60,314.80 Z" fill="#2a8adb" fill-opacity="0.55" stroke="#2a8adb" stroke-width="0.9"/>
<path d="M96.70,304.70 L98.60,302.80 L100.50,304.70 L98.60,306.60 Z" fill="#2a8adb" fill-opacity="0.55" stroke="#2a8adb" stroke-width="0.9"/>
<line x1="133.40" y1="295.40" x2="133.40" y2="279.80" stroke="#2a8adb" stroke-width="1.0" />
<path d="M131.50,295.40 L133.40,293.50 L135.30,295.40 L133.40,297.30 Z" fill="#2a8adb" fill-opacity="0.55" stroke="#2a8adb" stroke-width="0.9"/>
<path d="M131.50,279.80 L133.40,277.90 L135.30,279.80 L133.40,281.70 Z" fill="#2a8adb" fill-opacity="0.55" stroke="#2a8adb" stroke-width="0.9"/>
<line x1="168.20" y1="275.10" x2="168.20" y2="256.20" stroke="#2a8adb" stroke-width="1.0" />
<path d="M166.30,275.10 L168.20,273.20 L170.10,275.10 L168.20,277.00 Z" fill="#2a8adb" fill-opacity="0.55" stroke="#2a8adb" stroke-width="0.9"/>
<path d="M166.30,256.20 L168.20,254.30 L170.10,256.20 L168.20,258.10 Z" fill="#2a8adb" fill-opacity="0.55" stroke="#2a8adb" stroke-width="0.9"/>
<line x1="203.00" y1="253.40" x2="203.00" y2="238.20" stroke="#2a8adb" stroke-width="1.0" />
<path d="M201.10,253.40 L203.00,251.50 L204.90,253.40 L203.00,255.30 Z" fill="#2a8adb" fill-opacity="0.55" stroke="#2a8adb" stroke-width="0.9"/>
<path d="M201.10,238.20 L203.00,236.30 L204.90,238.20 L203.00,240.10 Z" fill="#2a8adb" fill-opacity="0.55" stroke="#2a8adb" stroke-width="0.9"/>
<circle cx="168.20" cy="285.60" r="1.6" fill="none" stroke="#7b7fd3" stroke-width="1"/>
<circle cx="203.00" cy="264.60" r="1.6" fill="none" stroke="#7b7fd3" stroke-width="1"/>
<circle cx="168.20" cy="312.20" r="1.6" fill="none" stroke="#35b872" stroke-width="1"/>
<circle cx="203.00" cy="301.70" r="1.6" fill="none" stroke="#35b872" stroke-width="1"/>
<rect x="46.80" y="382.00" width="173.70" height="139.70" fill="none" stroke="#222" stroke-width="1.25"/>
<line x1="43.80" y1="519.60" x2="46.80" y2="519.60" stroke="#222" stroke-width="1.0" />
<text x="41.40" y="522.64" font-size="8.5" text-anchor="end" fill="#111" font-weight="bold" stroke="#111" stroke-width="0.25" >0</text>
<line x1="43.80" y1="476.40" x2="46.80" y2="476.40" stroke="#222" stroke-width="1.0" />
<text x="41.40" y="479.44" font-size="8.5" text-anchor="end" fill="#111" font-weight="bold" stroke="#111" stroke-width="0.25" >500</text>
<line x1="43.80" y1="433.20" x2="46.80" y2="433.20" stroke="#222" stroke-width="1.0" />
<text x="41.40" y="436.24" font-size="8.5" text-anchor="end" fill="#111" font-weight="bold" stroke="#111" stroke-width="0.25" >1,000</text>
<line x1="43.80" y1="390.00" x2="46.80" y2="390.00" stroke="#222" stroke-width="1.0" />
<text x="41.40" y="393.04" font-size="8.5" text-anchor="end" fill="#111" font-weight="bold" stroke="#111" stroke-width="0.25" >1,500</text>
<line x1="44.80" y1="498.00" x2="46.80" y2="498.00" stroke="#222" stroke-width="1.0" />
<line x1="44.80" y1="454.80" x2="46.80" y2="454.80" stroke="#222" stroke-width="1.0" />
<line x1="44.80" y1="411.60" x2="46.80" y2="411.60" stroke="#222" stroke-width="1.0" />
<line x1="64.20" y1="521.70" x2="64.20" y2="524.70" stroke="#222" stroke-width="1.0" />
<text x="64.20" y="533.30" font-size="8.5" text-anchor="middle" fill="#111" font-weight="bold" stroke="#111" stroke-width="0.25" >0.5</text>
<line x1="98.95" y1="521.70" x2="98.95" y2="524.70" stroke="#222" stroke-width="1.0" />
<text x="98.95" y="533.30" font-size="8.5" text-anchor="middle" fill="#111" font-weight="bold" stroke="#111" stroke-width="0.25" >1.0</text>
<line x1="133.70" y1="521.70" x2="133.70" y2="524.70" stroke="#222" stroke-width="1.0" />
<text x="133.70" y="533.30" font-size="8.5" text-anchor="middle" fill="#111" font-weight="bold" stroke="#111" stroke-width="0.25" >1.5</text>
<line x1="168.45" y1="521.70" x2="168.45" y2="524.70" stroke="#222" stroke-width="1.0" />
<text x="168.45" y="533.30" font-size="8.5" text-anchor="middle" fill="#111" font-weight="bold" stroke="#111" stroke-width="0.25" >2.0</text>
<line x1="203.20" y1="521.70" x2="203.20" y2="524.70" stroke="#222" stroke-width="1.0" />
<text x="203.20" y="533.30" font-size="8.5" text-anchor="middle" fill="#111" font-weight="bold" stroke="#111" stroke-width="0.25" >2.5</text>
<line x1="81.58" y1="521.70" x2="81.58" y2="523.70" stroke="#222" stroke-width="1.0" />
<line x1="116.33" y1="521.70" x2="116.33" y2="523.70" stroke="#222" stroke-width="1.0" />
<line x1="151.07" y1="521.70" x2="151.07" y2="523.70" stroke="#222" stroke-width="1.0" />
<line x1="185.82" y1="521.70" x2="185.82" y2="523.70" stroke="#222" stroke-width="1.0" />
<text x="140.85" y="546.60" font-size="9.5" text-anchor="middle" fill="#111" font-weight="bold" stroke="#111" stroke-width="0.25" >Field (V µm<tspan font-size="6.0" dy="-3.4">-1</tspan><tspan dy="3.4">)</tspan></text>
<text transform="translate(17.80,455.50) rotate(-90)" x="0" y="0" font-size="9.6" text-anchor="middle" fill="#111" font-weight="bold" stroke="#111" stroke-width="0.25">Luminance (cd m<tspan font-size="6.0" dy="-3.5">-2</tspan><tspan dy="3.5">)</tspan></text>
<text x="161.80" y="397.30" font-size="9.4" text-anchor="start" fill="#111" font-weight="bold" stroke="#111" stroke-width="0.25" >APELSD-F</text>
<line x1="51.10" y1="395.20" x2="73.30" y2="395.20" stroke="#35b872" stroke-width="1.4" />
<text x="79.50" y="397.40" font-size="8.2" text-anchor="start" fill="#111" font-weight="bold" stroke="#111" stroke-width="0.25" >30% ZnS</text>
<line x1="51.10" y1="405.75" x2="73.30" y2="405.75" stroke="#7b7fd3" stroke-width="1.4" />
<text x="79.50" y="407.95" font-size="8.2" text-anchor="start" fill="#111" font-weight="bold" stroke="#111" stroke-width="0.25" >50% ZnS</text>
<line x1="51.10" y1="416.30" x2="73.30" y2="416.30" stroke="#2a8adb" stroke-width="1.4" />
<text x="79.50" y="418.50" font-size="8.2" text-anchor="start" fill="#111" font-weight="bold" stroke="#111" stroke-width="0.25" >70% ZnS</text>
<polyline points="64.20,518.13 98.95,513.38 133.70,508.28 168.45,501.11 203.20,488.24" fill="none" stroke="#35b872" stroke-width="1.3" stroke-linejoin="round" />
<path d="M62.10,516.03 H66.30 L62.10,520.23 H66.30 Z" fill="#35b872"/>
<rect x="62.80" y="517.53" width="2.80" height="2.80" fill="#35b872"/>
<path d="M96.85,511.28 H101.05 L96.85,515.48 H101.05 Z" fill="#35b872"/>
<rect x="97.55" y="512.78" width="2.80" height="2.80" fill="#35b872"/>
<path d="M131.60,506.18 H135.80 L131.60,510.38 H135.80 Z" fill="#35b872"/>
<rect x="132.30" y="507.68" width="2.80" height="2.80" fill="#35b872"/>
<path d="M166.35,499.01 H170.55 L166.35,503.21 H170.55 Z" fill="#35b872"/>
<rect x="167.05" y="500.51" width="2.80" height="2.80" fill="#35b872"/>
<path d="M201.10,486.14 H205.30 L201.10,490.34 H205.30 Z" fill="#35b872"/>
<rect x="201.80" y="487.64" width="2.80" height="2.80" fill="#35b872"/>
<polyline points="64.20,518.13 98.95,509.23 133.70,497.57 168.45,484.18 203.20,469.49" fill="none" stroke="#7b7fd3" stroke-width="1.3" stroke-linejoin="round" />
<path d="M62.10,516.03 H66.30 L62.10,520.23 H66.30 Z" fill="#7b7fd3"/>
<rect x="62.80" y="517.53" width="2.80" height="2.80" fill="#7b7fd3"/>
<path d="M96.85,507.13 H101.05 L96.85,511.33 H101.05 Z" fill="#7b7fd3"/>
<rect x="97.55" y="508.63" width="2.80" height="2.80" fill="#7b7fd3"/>
<path d="M131.60,495.47 H135.80 L131.60,499.67 H135.80 Z" fill="#7b7fd3"/>
<rect x="132.30" y="496.97" width="2.80" height="2.80" fill="#7b7fd3"/>
<path d="M166.35,482.08 H170.55 L166.35,486.28 H170.55 Z" fill="#7b7fd3"/>
<rect x="167.05" y="483.58" width="2.80" height="2.80" fill="#7b7fd3"/>
<path d="M201.10,467.39 H205.30 L201.10,471.59 H205.30 Z" fill="#7b7fd3"/>
<rect x="201.80" y="468.89" width="2.80" height="2.80" fill="#7b7fd3"/>
<polyline points="64.20,517.44 98.95,504.57 133.70,485.39 168.45,463.87 203.20,437.52" fill="none" stroke="#2a8adb" stroke-width="1.3" stroke-linejoin="round" />
<path d="M62.10,515.34 H66.30 L62.10,519.54 H66.30 Z" fill="#2a8adb"/>
<rect x="62.80" y="516.84" width="2.80" height="2.80" fill="#2a8adb"/>
<path d="M96.85,502.47 H101.05 L96.85,506.67 H101.05 Z" fill="#2a8adb"/>
<rect x="97.55" y="503.97" width="2.80" height="2.80" fill="#2a8adb"/>
<path d="M131.60,483.29 H135.80 L131.60,487.49 H135.80 Z" fill="#2a8adb"/>
<rect x="132.30" y="484.79" width="2.80" height="2.80" fill="#2a8adb"/>
<path d="M166.35,461.77 H170.55 L166.35,465.97 H170.55 Z" fill="#2a8adb"/>
<rect x="167.05" y="463.27" width="2.80" height="2.80" fill="#2a8adb"/>
<path d="M201.10,435.42 H205.30 L201.10,439.62 H205.30 Z" fill="#2a8adb"/>
<rect x="201.80" y="436.92" width="2.80" height="2.80" fill="#2a8adb"/>
<line x1="203.20" y1="430.50" x2="203.20" y2="441.00" stroke="#2a8adb" stroke-width="1.0" />
<circle cx="203.20" cy="430.50" r="1.6" fill="none" stroke="#2a8adb" stroke-width="1"/>
<path d="M201.20,437.50 H205.20 L201.20,441.50 H205.20 Z" fill="#2a8adb"/>
<line x1="168.45" y1="458.50" x2="168.45" y2="467.00" stroke="#2a8adb" stroke-width="1.0" />
<circle cx="168.45" cy="458.50" r="1.6" fill="none" stroke="#2a8adb" stroke-width="1"/>
<path d="M166.45,463.50 H170.45 L166.45,467.50 H170.45 Z" fill="#2a8adb"/>
<line x1="203.20" y1="464.80" x2="203.20" y2="472.00" stroke="#7b7fd3" stroke-width="1.0" />
<circle cx="203.20" cy="464.80" r="1.6" fill="none" stroke="#7b7fd3" stroke-width="1"/>
<path d="M201.20,468.50 H205.20 L201.20,472.50 H205.20 Z" fill="#7b7fd3"/>
<line x1="203.20" y1="485.00" x2="203.20" y2="491.00" stroke="#35b872" stroke-width="1.0" />
<circle cx="203.20" cy="485.00" r="1.6" fill="none" stroke="#35b872" stroke-width="1"/>
<path d="M201.20,487.50 H205.20 L201.20,491.50 H205.20 Z" fill="#35b872"/>
<line x1="168.45" y1="499.50" x2="168.45" y2="503.50" stroke="#35b872" stroke-width="1.0" />
<path d="M166.55,501.10 H170.35 L166.55,504.90 H170.35 Z" fill="#35b872"/>
<rect x="273.20" y="381.10" width="175.70" height="141.20" fill="none" stroke="#222" stroke-width="1.25"/>
<line x1="270.20" y1="522.30" x2="273.20" y2="522.30" stroke="#222" stroke-width="1.0" />
<text x="267.80" y="525.34" font-size="8.5" text-anchor="end" fill="#111" font-weight="bold" stroke="#111" stroke-width="0.25" >0</text>
<line x1="270.20" y1="491.60" x2="273.20" y2="491.60" stroke="#222" stroke-width="1.0" />
<text x="267.80" y="494.64" font-size="8.5" text-anchor="end" fill="#111" font-weight="bold" stroke="#111" stroke-width="0.25" >50</text>
<line x1="270.20" y1="460.90" x2="273.20" y2="460.90" stroke="#222" stroke-width="1.0" />
<text x="267.80" y="463.94" font-size="8.5" text-anchor="end" fill="#111" font-weight="bold" stroke="#111" stroke-width="0.25" >100</text>
<line x1="270.20" y1="430.20" x2="273.20" y2="430.20" stroke="#222" stroke-width="1.0" />
<text x="267.80" y="433.24" font-size="8.5" text-anchor="end" fill="#111" font-weight="bold" stroke="#111" stroke-width="0.25" >150</text>
<line x1="270.20" y1="399.50" x2="273.20" y2="399.50" stroke="#222" stroke-width="1.0" />
<text x="267.80" y="402.54" font-size="8.5" text-anchor="end" fill="#111" font-weight="bold" stroke="#111" stroke-width="0.25" >200</text>
<line x1="273.10" y1="522.30" x2="273.10" y2="525.30" stroke="#222" stroke-width="1.0" />
<text x="273.10" y="534.00" font-size="8.5" text-anchor="middle" fill="#111" font-weight="bold" stroke="#111" stroke-width="0.25" >0</text>
<line x1="313.62" y1="522.30" x2="313.62" y2="525.30" stroke="#222" stroke-width="1.0" />
<text x="313.62" y="534.00" font-size="8.5" text-anchor="middle" fill="#111" font-weight="bold" stroke="#111" stroke-width="0.25" >300</text>
<line x1="354.14" y1="522.30" x2="354.14" y2="525.30" stroke="#222" stroke-width="1.0" />
<text x="354.14" y="534.00" font-size="8.5" text-anchor="middle" fill="#111" font-weight="bold" stroke="#111" stroke-width="0.25" >600</text>
<line x1="394.66" y1="522.30" x2="394.66" y2="525.30" stroke="#222" stroke-width="1.0" />
<text x="394.66" y="534.00" font-size="8.5" text-anchor="middle" fill="#111" font-weight="bold" stroke="#111" stroke-width="0.25" >900</text>
<line x1="435.18" y1="522.30" x2="435.18" y2="525.30" stroke="#222" stroke-width="1.0" />
<text x="435.18" y="534.00" font-size="8.5" text-anchor="middle" fill="#111" font-weight="bold" stroke="#111" stroke-width="0.25" >1,200</text>
<text x="368.50" y="546.60" font-size="9.3" text-anchor="middle" fill="#111" font-weight="bold" stroke="#111" stroke-width="0.25" >Strain (%)</text>
<text transform="translate(246.30,455.70) rotate(-90)" x="0" y="0" font-size="9.3" text-anchor="middle" fill="#111" font-weight="bold" stroke="#111" stroke-width="0.25">Stress (kPa)</text>
<line x1="356.10" y1="401.20" x2="378.00" y2="401.20" stroke="#3598e0" stroke-width="1.4" />
<text x="384.10" y="404.20" font-size="8.2" text-anchor="start" fill="#111" font-weight="bold" stroke="#111" stroke-width="0.25" >APELSD-F</text>
<path d="M273.10,522.20 C273.23,520.83 273.58,516.70 273.90,514.00 C274.22,511.30 274.55,508.42 275.00,506.00 C275.45,503.58 275.90,501.80 276.60,499.50 C277.30,497.20 278.13,494.45 279.20,492.20 C280.27,489.95 281.53,487.87 283.00,486.00 C284.47,484.13 286.08,482.57 288.00,481.00 C289.92,479.43 292.17,478.02 294.50,476.60 C296.83,475.18 298.93,474.03 302.00,472.50 C305.07,470.97 308.70,469.33 312.90,467.40 C317.10,465.47 322.43,463.18 327.20,460.90 C331.97,458.62 336.73,456.27 341.50,453.70 C346.27,451.13 352.05,447.78 355.80,445.50 C359.55,443.22 361.62,441.65 364.00,440.00 C366.38,438.35 369.08,436.33 370.10,435.60 L371.30,434.40 L372.60,435.20 L375.50,433.40 L378.30,431.40 L381.00,429.00 L383.40,426.60 L383.80,444.50 L384.60,452.50 L386.50,456.20 L388.80,458.60 L390.90,461.20 L392.60,464.30 L394.20,466.90 L395.90,468.30 L397.50,468.30 L399.20,467.60 L401.00,466.80 L401.90,466.60 L402.2,522.3" fill="none" stroke="#3598e0" stroke-width="1.3" stroke-linejoin="round"/>
<rect x="508.60" y="380.20" width="175.70" height="140.80" fill="none" stroke="#222" stroke-width="1.25"/>
<line x1="684.40" y1="380.20" x2="684.40" y2="521.00" stroke="#222" stroke-width="1.5" />
<line x1="505.60" y1="521.00" x2="508.60" y2="521.00" stroke="#222" stroke-width="1.0" />
<text x="503.20" y="524.04" font-size="8.5" text-anchor="end" fill="#111" font-weight="bold" stroke="#111" stroke-width="0.25" >0.0</text>
<line x1="505.60" y1="477.52" x2="508.60" y2="477.52" stroke="#222" stroke-width="1.0" />
<text x="503.20" y="480.56" font-size="8.5" text-anchor="end" fill="#111" font-weight="bold" stroke="#111" stroke-width="0.25" >0.4</text>
<line x1="505.60" y1="434.04" x2="508.60" y2="434.04" stroke="#222" stroke-width="1.0" />
<text x="503.20" y="437.08" font-size="8.5" text-anchor="end" fill="#111" font-weight="bold" stroke="#111" stroke-width="0.25" >0.8</text>
<line x1="505.60" y1="390.56" x2="508.60" y2="390.56" stroke="#222" stroke-width="1.0" />
<text x="503.20" y="393.60" font-size="8.5" text-anchor="end" fill="#111" font-weight="bold" stroke="#111" stroke-width="0.25" >1.2</text>
<line x1="506.60" y1="499.26" x2="508.60" y2="499.26" stroke="#222" stroke-width="1.0" />
<line x1="506.60" y1="455.78" x2="508.60" y2="455.78" stroke="#222" stroke-width="1.0" />
<line x1="506.60" y1="412.30" x2="508.60" y2="412.30" stroke="#222" stroke-width="1.0" />
<line x1="509.20" y1="521.00" x2="509.20" y2="524.00" stroke="#222" stroke-width="1.0" />
<text x="509.20" y="532.40" font-size="8.5" text-anchor="middle" fill="#111" font-weight="bold" stroke="#111" stroke-width="0.25" >0</text>
<line x1="542.16" y1="521.00" x2="542.16" y2="524.00" stroke="#222" stroke-width="1.0" />
<text x="542.16" y="532.40" font-size="8.5" text-anchor="middle" fill="#111" font-weight="bold" stroke="#111" stroke-width="0.25" >200</text>
<line x1="575.12" y1="521.00" x2="575.12" y2="524.00" stroke="#222" stroke-width="1.0" />
<text x="575.12" y="532.40" font-size="8.5" text-anchor="middle" fill="#111" font-weight="bold" stroke="#111" stroke-width="0.25" >400</text>
<line x1="608.08" y1="521.00" x2="608.08" y2="524.00" stroke="#222" stroke-width="1.0" />
<text x="608.08" y="532.40" font-size="8.5" text-anchor="middle" fill="#111" font-weight="bold" stroke="#111" stroke-width="0.25" >600</text>
<line x1="641.04" y1="521.00" x2="641.04" y2="524.00" stroke="#222" stroke-width="1.0" />
<text x="641.04" y="532.40" font-size="8.5" text-anchor="middle" fill="#111" font-weight="bold" stroke="#111" stroke-width="0.25" >800</text>
<line x1="674.00" y1="521.00" x2="674.00" y2="524.00" stroke="#222" stroke-width="1.0" />
<text x="674.00" y="532.40" font-size="8.5" text-anchor="middle" fill="#111" font-weight="bold" stroke="#111" stroke-width="0.25" >1,000</text>
<line x1="525.68" y1="521.00" x2="525.68" y2="523.00" stroke="#222" stroke-width="1.0" />
<line x1="558.64" y1="521.00" x2="558.64" y2="523.00" stroke="#222" stroke-width="1.0" />
<line x1="591.60" y1="521.00" x2="591.60" y2="523.00" stroke="#222" stroke-width="1.0" />
<line x1="624.56" y1="521.00" x2="624.56" y2="523.00" stroke="#222" stroke-width="1.0" />
<line x1="657.52" y1="521.00" x2="657.52" y2="523.00" stroke="#222" stroke-width="1.0" />
<text x="600.10" y="546.60" font-size="9.3" text-anchor="middle" fill="#111" font-weight="bold" stroke="#111" stroke-width="0.25" >Strain cycles</text>
<text transform="translate(485.20,453.70) rotate(-90)" x="0" y="0" font-size="9.2" text-anchor="middle" fill="#111" font-weight="bold" stroke="#111" stroke-width="0.25">L/L<tspan font-size="6.2" dy="2.4">0</tspan></text>
<text x="597.20" y="466.90" font-size="9.3" text-anchor="start" fill="#111" font-weight="bold" stroke="#111" stroke-width="0.25" >200% Straining</text>
<polyline points="509.20,412.30 525.68,413.39 542.16,412.73 558.64,413.06 575.12,412.73 591.60,411.97 608.08,411.00 624.56,411.76 641.04,413.71 657.52,413.39 674.00,415.45" fill="none" stroke="#2489da" stroke-width="1.3" stroke-linejoin="round" />
<circle cx="509.20" cy="412.30" r="1.9" fill="#2489da"/>
<circle cx="525.68" cy="413.39" r="1.9" fill="#2489da"/>
<circle cx="542.16" cy="412.73" r="1.9" fill="#2489da"/>
<circle cx="558.64" cy="413.06" r="1.9" fill="#2489da"/>
<circle cx="575.12" cy="412.73" r="1.9" fill="#2489da"/>
<circle cx="591.60" cy="411.97" r="1.9" fill="#2489da"/>
<circle cx="608.08" cy="411.00" r="1.9" fill="#2489da"/>
<circle cx="624.56" cy="411.76" r="1.9" fill="#2489da"/>
<circle cx="641.04" cy="413.71" r="1.9" fill="#2489da"/>
<circle cx="657.52" cy="413.39" r="1.9" fill="#2489da"/>
<circle cx="674.00" cy="415.45" r="1.9" fill="#2489da"/>
</svg></body></html>
